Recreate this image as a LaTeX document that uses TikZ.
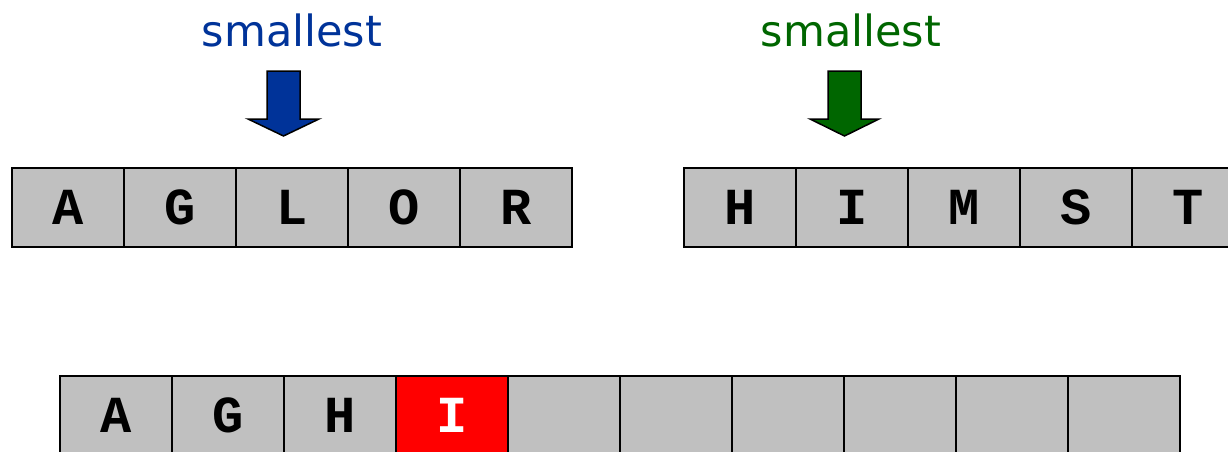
\documentclass[tikz,border=0pt]{standalone}
\usepackage{fontspec}
\newfontfamily\monob{Liberation Mono}[BoldFont={* Bold}]
\newfontfamily\labfont{DejaVu Sans}
\definecolor{cellgray}{HTML}{C0C0C0}
\definecolor{myblue}{HTML}{003399}
\definecolor{mygreen}{HTML}{006600}
\definecolor{myred}{HTML}{FF0000}
\tikzset{
  cell/.style={draw=black, line width=1.5pt, fill=cellgray, minimum width=112pt, minimum height=79pt, inner sep=0pt, font=\monob\bfseries\fontsize{52}{52}\selectfont, text=black},
  hot/.style={cell, fill=myred, text=white},
  lab/.style={font=\labfont\fontsize{43}{43}\selectfont, anchor=base, inner sep=0pt},
  downarrow/.style={draw=black, line width=1.5pt, line join=miter}
}
\begin{document}
\begin{tikzpicture}[x=1pt,y=-1pt]
\useasboundingbox (0,0) rectangle (1228,452);
\clip (0,0) rectangle (1228,452);
% left array
\foreach \t [count=\i] in {A,G,L,O,R}
  \node[cell] (l\i) at ({68+112*(\i-1)},207.5) {\t};
% right array
\foreach \t [count=\i] in {H,I,M,S,T}
  \node[cell] (r\i) at ({740+112*(\i-1)},207.5) {\t};
% bottom array
\foreach \t [count=\i] in {A,G,H}
  \node[cell] (b\i) at ({116+112*(\i-1)},415.5) {\t};
\node[hot] (b4) at ({116+112*3},415.5) {I};
\foreach \i in {5,...,10}
  \node[cell] (b\i) at ({116+112*(\i-1)},415.5) {};
% labels
\node[lab, text=myblue] (sb) at (292,47) {smallest};
\node[lab, text=mygreen] (sg) at (851,47) {smallest};
% arrows
\draw[downarrow, fill=myblue] (267,71) -- (300,71) -- (300,119) -- (319,119) -- (283.5,136) -- (248,119) -- (267,119) -- cycle;
\draw[downarrow, fill=mygreen] (828,71) -- (861,71) -- (861,119) -- (879,119) -- (844.5,136) -- (810,119) -- (828,119) -- cycle;
\end{tikzpicture}
\end{document}
